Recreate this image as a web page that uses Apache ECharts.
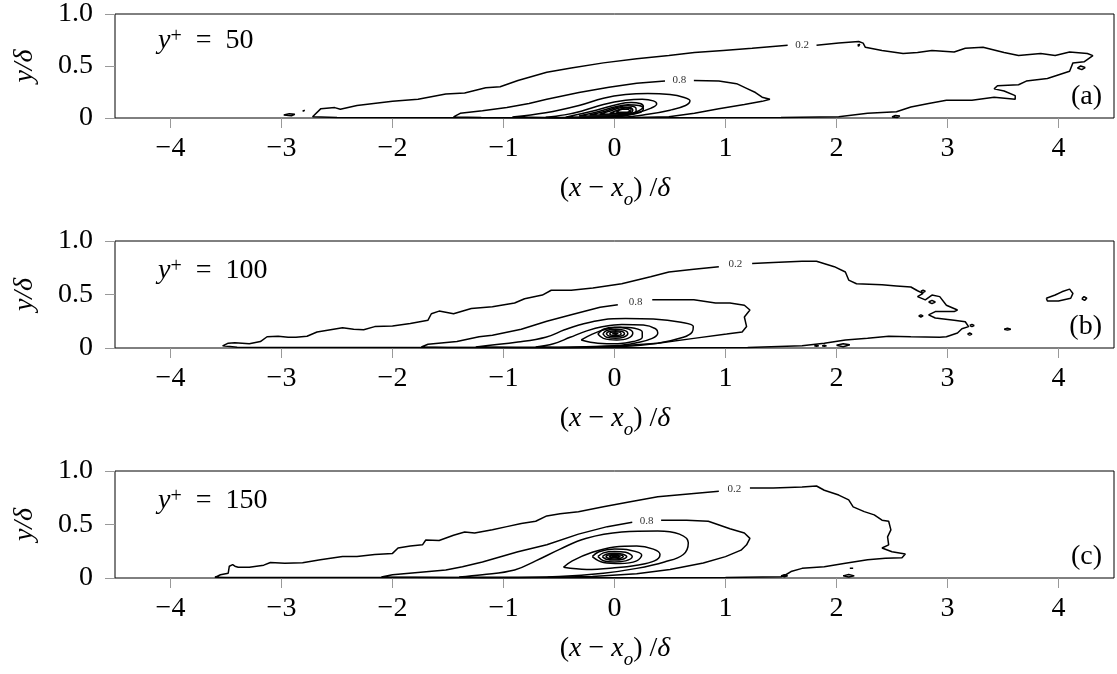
<!DOCTYPE html>
<html><head><meta charset="utf-8">
<script src="https://cdn.jsdelivr.net/npm/echarts@6/dist/echarts.min.js"></script>
<style>html,body{margin:0;padding:0;background:#fff}#c{width:1117px;height:674px}</style>
</head><body><div id="c"></div>
<script>
// ---------- data ----------
const xTicks = [-4, -3, -2, -1, 0, 1, 2, 3, 4];
const yTicks = [0, 0.5, 1];
const yPlusValues = ['50', '100', '150'];
const panelTags = ['(a)', '(b)', '(c)'];

// Panel (a) y+ = 50
const outerA = [
  [[1.82,0.70],[2.02,0.72],[2.2,0.735],[2.24,0.72],[2.26,0.68],[2.41,0.65],[2.6,0.62],[2.73,0.63],[2.86,0.65],[3.06,0.635],[3.16,0.67],[3.32,0.68],[3.51,0.63],[3.64,0.60],[3.84,0.62],[3.97,0.60],[4.1,0.635],[4.26,0.62],[4.31,0.60],[4.23,0.54],[4.13,0.53],[4.1,0.45],[3.9,0.38],[3.71,0.355],[3.64,0.32],[3.45,0.31],[3.42,0.28],[3.51,0.26],[3.61,0.215],[3.61,0.18],[3.42,0.20],[3.22,0.17],[2.99,0.17],[2.83,0.14],[2.67,0.105],[2.54,0.06],[2.28,0.045],[2.02,0.012],[1.5,0.004],[0,0.002],[-1.5,0.003],[-2.5,0.005],[-2.72,0.012],[-2.71,0.03],[-2.645,0.09],[-2.52,0.10],[-2.47,0.084],[-2.32,0.12],[-2.0,0.16],[-1.77,0.18],[-1.52,0.23],[-1.35,0.24],[-1.16,0.29],[-1.03,0.30],[-0.87,0.36],[-0.61,0.44],[-0.39,0.48],[-0.1,0.53],[0.2,0.57],[0.49,0.60],[0.72,0.63],[0.98,0.65],[1.24,0.67],[1.56,0.70]],
  [[0.715,0.36],[0.94,0.355],[1.1,0.33],[1.19,0.285],[1.27,0.245],[1.33,0.20],[1.4,0.18],[1.33,0.16],[1.17,0.13],[0.94,0.09],[0.72,0.045],[0.49,0.012],[0.2,0.004],[-0.5,0.003],[-1.2,0.004],[-1.45,0.01],[-1.39,0.045],[-1.19,0.07],[-0.97,0.10],[-0.77,0.14],[-0.61,0.18],[-0.32,0.245],[-0.05,0.295],[0.2,0.335],[0.455,0.355]],
  [[-2.98,0.03],[-2.93,0.042],[-2.88,0.035],[-2.91,0.022],[-2.98,0.03]],
  [[-2.81,0.065],[-2.79,0.075],[-2.78,0.065],[-2.8,0.058],[-2.81,0.065]],
  [[2.19,0.70],[2.21,0.71],[2.22,0.695],[2.2,0.69],[2.19,0.70]],
  [[4.17,0.48],[4.2,0.50],[4.24,0.485],[4.21,0.465],[4.17,0.48]],
  [[2.5,0.01],[2.53,0.025],[2.57,0.02],[2.55,0.005],[2.5,0.01]]
];
const innerA = [
  [[-0.92,0.01],[-0.62,0.05],[-0.32,0.12],[-0.1,0.19],[0.1,0.225],[0.3,0.235],[0.5,0.225],[0.62,0.2],[0.68,0.165],[0.64,0.12],[0.5,0.075],[0.3,0.035],[0.1,0.01],[-0.4,0.003],[-0.92,0.01]],
  [[-0.62,0.008],[-0.45,0.03],[-0.3,0.065],[-0.1,0.13],[0.1,0.17],[0.25,0.18],[0.35,0.165],[0.38,0.135],[0.33,0.095],[0.2,0.05],[0.05,0.015],[-0.3,0.004],[-0.62,0.008]],
  [[-0.44,0.008],[-0.3,0.04],[-0.165,0.075],[0.045,0.135],[0.15,0.148],[0.23,0.14],[0.26,0.11],[0.22,0.07],[0.12,0.035],[0,0.01],[-0.44,0.008]],
  [[-0.32,0.02],[-0.15,0.06],[0,0.105],[0.12,0.128],[0.22,0.12],[0.26,0.09],[0.22,0.05],[0.1,0.03],[-0.1,0.02],[-0.32,0.02]],
  [[-0.225,0.028],[-0.1,0.06],[0.02,0.1],[0.12,0.118],[0.19,0.1],[0.195,0.07],[0.14,0.04],[0.02,0.03],[-0.225,0.028]],
  [[-0.135,0.037],[-0.03,0.07],[0.07,0.1],[0.14,0.1],[0.165,0.075],[0.12,0.045],[0.02,0.038],[-0.135,0.037]],
  [[-0.045,0.045],[0.04,0.08],[0.1,0.095],[0.15,0.08],[0.13,0.055],[0.06,0.045],[-0.045,0.045]],
  [[0.015,0.055],[0.07,0.085],[0.12,0.085],[0.135,0.068],[0.09,0.055],[0.015,0.055]]
];
const labelsA = [[1.69, 0.70, '0.2'], [0.585, 0.36, '0.8']];

// Panel (b) y+ = 100
const outerB = [
  [[1.24,0.79],[1.43,0.80],[1.69,0.81],[1.82,0.81],[1.98,0.76],[2.08,0.71],[2.11,0.635],[2.18,0.60],[2.41,0.59],[2.54,0.58],[2.67,0.57],[2.73,0.535],[2.78,0.51],[2.73,0.48],[2.80,0.45],[2.86,0.495],[2.93,0.48],[2.99,0.40],[3.09,0.355],[3.06,0.34],[2.89,0.34],[2.83,0.31],[2.89,0.28],[3.06,0.26],[3.16,0.245],[3.19,0.20],[3.13,0.18],[3.09,0.14],[2.99,0.105],[2.93,0.10],[2.67,0.105],[2.47,0.11],[2.28,0.09],[2.08,0.075],[1.89,0.045],[1.69,0.02],[1.2,0.005],[0,0.003],[-2,0.004],[-3.4,0.006],[-3.53,0.02],[-3.48,0.045],[-3.42,0.05],[-3.29,0.04],[-3.19,0.06],[-3.13,0.105],[-3.03,0.11],[-2.94,0.10],[-2.87,0.10],[-2.77,0.11],[-2.68,0.15],[-2.45,0.19],[-2.35,0.175],[-2.26,0.17],[-2.16,0.2],[-2.0,0.205],[-1.84,0.23],[-1.68,0.26],[-1.65,0.32],[-1.58,0.345],[-1.45,0.32],[-1.29,0.37],[-1.1,0.385],[-0.9,0.42],[-0.81,0.46],[-0.65,0.495],[-0.57,0.54],[-0.39,0.54],[-0.195,0.56],[0.065,0.60],[0.325,0.665],[0.49,0.71],[0.715,0.735],[0.94,0.76]],
  [[0.34,0.45],[0.55,0.45],[0.715,0.45],[0.91,0.42],[1.04,0.42],[1.17,0.40],[1.22,0.355],[1.17,0.29],[1.19,0.20],[1.15,0.15],[1.01,0.13],[0.715,0.09],[0.39,0.045],[0.065,0.02],[-0.5,0.005],[-1.5,0.004],[-1.74,0.01],[-1.68,0.035],[-1.42,0.06],[-1.22,0.106],[-1.1,0.12],[-0.84,0.175],[-0.61,0.25],[-0.39,0.31],[-0.13,0.38],[0.03,0.405]],
  [[2.76,0.53],[2.78,0.54],[2.8,0.53],[2.78,0.52],[2.76,0.53]],
  [[2.83,0.43],[2.86,0.445],[2.89,0.43],[2.86,0.415],[2.83,0.43]],
  [[2.74,0.30],[2.76,0.31],[2.78,0.30],[2.76,0.29],[2.74,0.30]],
  [[3.2,0.21],[3.22,0.22],[3.24,0.21],[3.22,0.2],[3.2,0.21]],
  [[3.18,0.13],[3.2,0.14],[3.22,0.13],[3.2,0.12],[3.18,0.13]],
  [[3.51,0.175],[3.54,0.185],[3.57,0.175],[3.54,0.167],[3.51,0.175]],
  [[3.89,0.465],[3.97,0.495],[4.03,0.525],[4.1,0.55],[4.13,0.51],[4.11,0.465],[4.0,0.44],[3.9,0.44],[3.89,0.465]],
  [[4.21,0.46],[4.23,0.48],[4.255,0.465],[4.235,0.445],[4.21,0.46]],
  [[1.8,0.02],[1.82,0.026],[1.84,0.02],[1.82,0.015],[1.8,0.02]],
  [[1.87,0.02],[1.89,0.026],[1.91,0.02],[1.89,0.015],[1.87,0.02]],
  [[2.0,0.025],[2.06,0.04],[2.12,0.03],[2.06,0.012],[2.0,0.025]]
];
const innerB = [
  [[-1.25,0.01],[-0.87,0.055],[-0.62,0.1],[-0.45,0.17],[-0.32,0.215],[-0.1,0.265],[0.1,0.275],[0.35,0.27],[0.6,0.24],[0.71,0.2],[0.7,0.15],[0.62,0.1],[0.39,0.045],[0.065,0.015],[-0.6,0.004],[-1.25,0.01]],
  [[-0.71,0.01],[-0.55,0.04],[-0.4,0.1],[-0.25,0.16],[-0.1,0.2],[0.065,0.22],[0.26,0.215],[0.37,0.18],[0.39,0.14],[0.34,0.09],[0.2,0.05],[0,0.02],[-0.4,0.005],[-0.71,0.01]],
  [[-0.3,0.075],[-0.2,0.13],[-0.08,0.175],[0.05,0.195],[0.18,0.185],[0.25,0.15],[0.25,0.1],[0.17,0.06],[0.03,0.04],[-0.15,0.045],[-0.3,0.075]],
  [[-0.15,0.13],[-0.1,0.175],[0.0,0.193],[0.1,0.185],[0.165,0.14],[0.12,0.09],[0.02,0.075],[-0.1,0.09],[-0.15,0.13]],
  [[-0.105,0.132],[-0.07,0.163],[0.01,0.175],[0.09,0.165],[0.12,0.135],[0.08,0.1],[0.01,0.09],[-0.07,0.1],[-0.105,0.132]],
  [[-0.075,0.134],[-0.05,0.155],[0.01,0.162],[0.07,0.155],[0.09,0.134],[0.06,0.112],[0.01,0.106],[-0.05,0.112],[-0.075,0.134]],
  [[-0.045,0.134],[-0.03,0.148],[0.01,0.153],[0.045,0.148],[0.06,0.134],[0.045,0.12],[0.01,0.115],[-0.03,0.12],[-0.045,0.134]],
  [[-0.02,0.135],[0.005,0.143],[0.03,0.135],[0.005,0.128],[-0.02,0.135]]
];
const labelsB = [[1.09, 0.78, '0.2'], [0.19, 0.43, '0.8']];

// Panel (c) y+ = 150
const outerC = [
  [[1.22,0.84],[1.43,0.84],[1.69,0.85],[1.82,0.86],[1.89,0.82],[2.02,0.775],[2.11,0.73],[2.15,0.665],[2.25,0.62],[2.34,0.59],[2.41,0.54],[2.47,0.53],[2.49,0.45],[2.46,0.385],[2.47,0.31],[2.41,0.28],[2.5,0.245],[2.62,0.225],[2.59,0.19],[2.44,0.185],[2.28,0.17],[2.08,0.137],[1.89,0.105],[1.69,0.09],[1.59,0.06],[1.54,0.028],[1.5,0.012],[1.0,0.004],[0,0.003],[-2,0.004],[-3.5,0.004],[-3.6,0.006],[-3.55,0.03],[-3.48,0.045],[-3.47,0.11],[-3.44,0.125],[-3.42,0.11],[-3.39,0.10],[-3.29,0.10],[-3.16,0.12],[-3.1,0.145],[-2.97,0.137],[-2.81,0.143],[-2.65,0.17],[-2.45,0.20],[-2.32,0.20],[-2.16,0.22],[-2.0,0.23],[-1.95,0.28],[-1.84,0.30],[-1.73,0.31],[-1.7,0.355],[-1.58,0.35],[-1.45,0.40],[-1.35,0.43],[-1.26,0.42],[-1.1,0.45],[-0.97,0.48],[-0.84,0.51],[-0.71,0.53],[-0.61,0.58],[-0.49,0.60],[-0.325,0.62],[-0.1,0.665],[0.13,0.71],[0.39,0.76],[0.715,0.79],[0.94,0.81]],
  [[0.42,0.54],[0.65,0.54],[0.845,0.53],[1.04,0.46],[1.17,0.42],[1.22,0.37],[1.19,0.31],[1.14,0.26],[1.0,0.2],[0.8,0.14],[0.5,0.08],[0.2,0.04],[-0.2,0.015],[-0.6,0.006],[-1.5,0.005],[-2.1,0.01],[-2.0,0.03],[-1.52,0.075],[-1.37,0.105],[-1.19,0.15],[-0.87,0.245],[-0.61,0.31],[-0.325,0.41],[-0.065,0.48],[0.16,0.52]],
  [[1.5,0.02],[1.53,0.03],[1.56,0.02],[1.53,0.012],[1.5,0.02]],
  [[2.12,0.09],[2.135,0.1],[2.15,0.09],[2.135,0.082],[2.12,0.09]],
  [[2.06,0.02],[2.11,0.032],[2.16,0.02],[2.11,0.01],[2.06,0.02]]
];
const innerC = [
  [[-1.4,0.01],[-1.19,0.03],[-0.9,0.075],[-0.71,0.16],[-0.49,0.27],[-0.26,0.37],[0.065,0.43],[0.39,0.44],[0.585,0.41],[0.665,0.33],[0.62,0.22],[0.45,0.15],[0.2,0.09],[-0.1,0.045],[-0.5,0.015],[-1.0,0.005],[-1.4,0.01]],
  [[-0.46,0.1],[-0.38,0.16],[-0.2,0.24],[0.0,0.29],[0.2,0.3],[0.35,0.27],[0.41,0.22],[0.36,0.16],[0.2,0.12],[0,0.095],[-0.25,0.08],[-0.46,0.1]],
  [[-0.2,0.2],[-0.14,0.245],[0,0.27],[0.14,0.26],[0.245,0.215],[0.2,0.16],[0.05,0.135],[-0.1,0.145],[-0.2,0.2]],
  [[-0.15,0.2],[-0.1,0.235],[0.0,0.248],[0.1,0.24],[0.16,0.2],[0.1,0.16],[0.0,0.15],[-0.1,0.162],[-0.15,0.2]],
  [[-0.11,0.2],[-0.075,0.222],[0,0.232],[0.075,0.222],[0.11,0.2],[0.075,0.176],[0,0.168],[-0.075,0.176],[-0.11,0.2]],
  [[-0.08,0.2],[-0.055,0.214],[0,0.22],[0.055,0.214],[0.08,0.2],[0.055,0.185],[0,0.178],[-0.055,0.185],[-0.08,0.2]],
  [[-0.05,0.2],[-0.035,0.207],[0,0.21],[0.035,0.207],[0.05,0.2],[0.035,0.193],[0,0.19],[-0.035,0.193],[-0.05,0.2]],
  [[-0.022,0.2],[0,0.205],[0.022,0.2],[0,0.195],[-0.022,0.2]]
];
const labelsC = [[1.08, 0.83, '0.2'], [0.29, 0.535, '0.8']];

// ---------- chart ----------
const F = '"Liberation Serif", "DejaVu Serif", serif';
const FS = 28;
const gridTops = [11, 241, 471];
const GH = 107;
const panels = [
  {outer: outerA, inner: innerA, labels: labelsA},
  {outer: outerB, inner: innerB, labels: labelsB},
  {outer: outerC, inner: innerC, labels: labelsC}
];

const grids = [], xAxes = [], yAxes = [], series = [], graphics = [];
panels.forEach((p, i) => {
  grids.push({left: 115, width: 999, top: gridTops[i], height: GH, show: true,
    borderColor: '#000', borderWidth: 1, backgroundColor: 'transparent'});
  xAxes.push({type: 'value', gridIndex: i, min: -4.5, max: 4.5, position: 'bottom',
    axisLine: {show: false, onZero: false}, splitLine: {show: false},
    axisTick: {show: true, customValues: xTicks, length: 10, lineStyle: {color: '#999', width: 1}},
    axisLabel: {customValues: xTicks, margin: 17, color: '#000', fontFamily: F, fontSize: FS,
      formatter: v => (v < 0 ? '\u2212' + Math.abs(v) : String(v))}
  });
  yAxes.push({type: 'value', gridIndex: i, min: 0, max: 1, interval: 0.5, position: 'left',
    axisLine: {show: false, onZero: false}, splitLine: {show: false},
    axisTick: {show: true, customValues: yTicks, length: 10, lineStyle: {color: '#999', width: 1}},
    axisLabel: {customValues: yTicks, margin: 22, color: '#000', fontFamily: F, fontSize: FS,
      formatter: v => (v === 0 ? '0' : v.toFixed(1))},
    name: 'y/\u03b4', nameLocation: 'middle', nameRotate: 90, nameGap: 76,
    nameTextStyle: {fontFamily: F, fontSize: FS, fontStyle: 'italic', color: '#000'}
  });
  p.outer.forEach(d => series.push({type: 'line', xAxisIndex: i, yAxisIndex: i, data: d,
    symbol: 'none', smooth: false, silent: true, lineStyle: {color: '#000', width: 1.5}, z: 3}));
  p.inner.forEach(d => series.push({type: 'line', xAxisIndex: i, yAxisIndex: i, data: d,
    symbol: 'none', smooth: 0.4, silent: true, lineStyle: {color: '#000', width: 1.5}, z: 3}));
  graphics.push({type: 'text', left: 158, top: gridTops[i] + 16, z: 10,
    style: {text: '{i|y}{s|+}{n|  =  ' + yPlusValues[i] + '}', fill: '#000',
      rich: {i: {fontFamily: F, fontSize: FS, fontStyle: 'italic', lineHeight: 32, verticalAlign: 'top'},
             s: {fontFamily: F, fontSize: 20, lineHeight: 18, verticalAlign: 'top', padding: [0, 0, 14, 0]},
             n: {fontFamily: F, fontSize: FS, lineHeight: 32, verticalAlign: 'top'}}}});
  graphics.push({type: 'text', right: 15, top: gridTops[i] + 72, z: 10,
    style: {text: panelTags[i], fill: '#000', font: FS + 'px ' + F}});
  graphics.push({type: 'text', x: 615, y: gridTops[i] + GH + 73, z: 10,
    style: {text: '{n|(}{i|x}{n| \u2212 }{i|x}{o|o}{n|) /}{i|\u03b4}', fill: '#000', align: 'center', verticalAlign: 'middle',
      rich: {i: {fontFamily: F, fontSize: FS, fontStyle: 'italic', lineHeight: 32, verticalAlign: 'top'},
             n: {fontFamily: F, fontSize: FS, lineHeight: 32, verticalAlign: 'top'},
             o: {fontFamily: F, fontSize: 19, fontStyle: 'italic', lineHeight: 16, verticalAlign: 'top', padding: [15, 0, 0, 0]}}}});
});

const chart = echarts.init(document.getElementById('c'), null, {renderer: 'canvas'});
chart.setOption({backgroundColor: '#fff', animation: false,
  grid: grids, xAxis: xAxes, yAxis: yAxes, series: series, graphic: graphics});

// contour level labels placed through the axes' own scales
const labelGraphics = [];
panels.forEach((p, i) => {
  p.labels.forEach(l => {
    const px = chart.convertToPixel({xAxisIndex: i, yAxisIndex: i}, [l[0], l[1]]);
    labelGraphics.push({type: 'text', x: px[0], y: px[1], z: 11,
      style: {text: l[2], fill: '#333', align: 'center', verticalAlign: 'middle',
        font: '11px ' + F}});
  });
});
chart.setOption({graphic: graphics.concat(labelGraphics)});
</script></body></html>
